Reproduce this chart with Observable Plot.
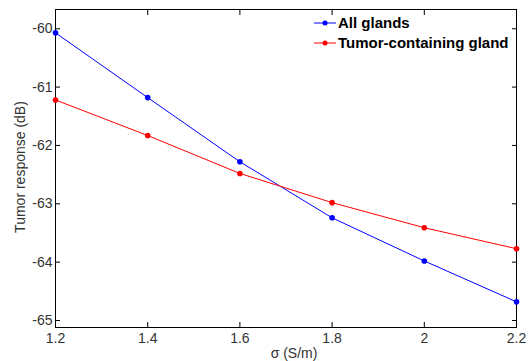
<!DOCTYPE html>
<html>
<head>
<meta charset="utf-8">
<script src="https://cdn.jsdelivr.net/npm/d3@7"></script>
<script src="https://cdn.jsdelivr.net/npm/@observablehq/plot@0.6"></script>
<style>
  html, body { margin: 0; padding: 0; background: #fff; }
  #chart { width: 532px; height: 361px; }
  svg { font-family: "Liberation Sans", Arial, sans-serif; }
</style>
</head>
<body>
<div id="chart"></div>
<script>
const sigma = [1.2, 1.4, 1.6, 1.8, 2.0, 2.2];
const allGlands = [-60.07, -61.18, -62.28, -63.24, -63.98, -64.68];
const tumorGland = [-61.22, -61.83, -62.48, -62.98, -63.41, -63.77];
const seriesNames = ["All glands", "Tumor-containing gland"];
const seriesColors = ["#0000ff", "#ff0000"];
const xTicks = [1.2, 1.4, 1.6, 1.8, 2.0, 2.2];
const yTicks = [-65, -64, -63, -62, -61, -60];

const data = [];
sigma.forEach((s, i) => {
  data.push({sigma: s, value: allGlands[i], series: seriesNames[0]});
  data.push({sigma: s, value: tumorGland[i], series: seriesNames[1]});
});

const fmt = d => String(+d.toFixed(1));

const chart = Plot.plot({
  width: 532,
  height: 361,
  marginLeft: 55,
  marginRight: 16,
  marginTop: 9,
  marginBottom: 34,
  style: {fontFamily: "Liberation Sans, Arial, sans-serif", fontSize: "14px", color: "#333", background: "#fff"},
  x: {domain: [1.2, 2.2]},
  y: {domain: [-65.12, -59.67]},
  color: {domain: seriesNames, range: seriesColors},
  marks: [
    Plot.frame({stroke: "#000", strokeWidth: 1}),
    Plot.axisX({anchor: "bottom", ticks: xTicks, tickSize: -5, tickPadding: 11, tickFormat: fmt, fontSize: 14, label: null, stroke: "#000", fill: "#333"}),
    Plot.axisX({anchor: "top", ticks: xTicks, tickSize: -5, tickFormat: () => "", label: null, stroke: "#000"}),
    Plot.axisY({anchor: "left", ticks: yTicks, tickSize: -5, tickPadding: 8, fontSize: 14, tickFormat: fmt, label: null, stroke: "#000", fill: "#333"}),
    Plot.axisY({anchor: "right", ticks: yTicks, tickSize: -5, tickFormat: () => "", label: null, stroke: "#000"}),
    Plot.line(data, {x: "sigma", y: "value", z: "series", stroke: "series", strokeWidth: 1}),
    Plot.dot(data, {x: "sigma", y: "value", fill: "series", r: 2.8, stroke: "none"})
  ]
});

document.getElementById("chart").appendChild(chart);

const svg = d3.select(chart);
// axis titles
svg.append("text")
  .attr("x", 294).attr("y", 353).attr("dy", "0.36em")
  .attr("text-anchor", "middle")
  .attr("font-size", 14).attr("fill", "#333")
  .text("σ (S/m)");
svg.append("text")
  .attr("transform", "translate(20,167) rotate(-90)")
  .attr("text-anchor", "middle").attr("dy", "0.36em")
  .attr("font-size", 14).attr("fill", "#333")
  .text("Tumor response (dB)");

// legend
const lg = svg.append("g");
seriesNames.forEach((name, i) => {
  const y = 23 + i * 20;
  lg.append("line").attr("x1", 314).attr("x2", 336).attr("y1", y).attr("y2", y)
    .attr("stroke", seriesColors[i]).attr("stroke-width", 1);
  lg.append("circle").attr("cx", 325).attr("cy", y).attr("r", 2.5).attr("fill", seriesColors[i]);
  lg.append("text").attr("x", 338).attr("y", y).attr("dy", "0.36em")
    .attr("text-anchor", "start")
    .attr("font-size", 15).attr("font-weight", "bold").attr("fill", "#000")
    .text(name);
});
</script>
</body>
</html>
